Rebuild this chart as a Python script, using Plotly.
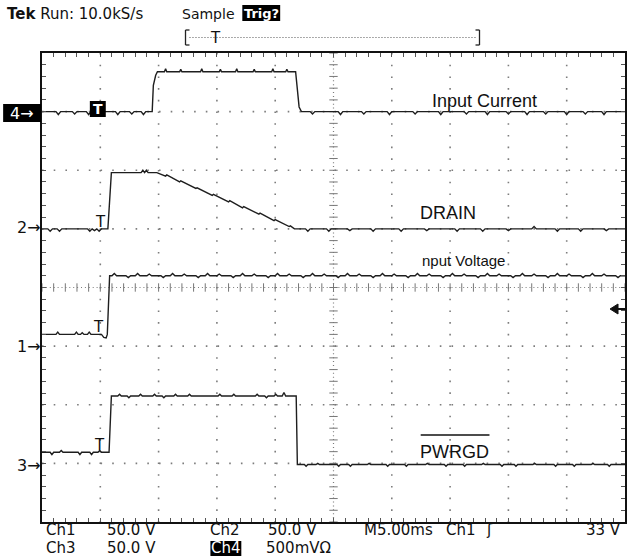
import plotly.graph_objects as go

# ---------------- data ----------------
# time in ms (M5.00ms -> 5 ms/div, 10 divisions); amplitude in screen divisions (0..8)
time_range = [0, 50]
div_range = [0, 8]

# Ch4 - Input Current
ch4_t = [0.0, 1.2, 1.4, 1.6, 2.6, 2.8, 3.0, 3.8, 4.0, 4.2, 5.0, 5.2, 5.4, 6.3, 6.5, 6.7, 7.5, 7.7, 7.9, 8.5, 8.7, 8.9,
         9.45, 9.55, 9.75, 9.9,
         10.5, 10.6, 10.7, 11.8, 11.9, 12.0, 13.6, 13.7, 13.8, 15.2, 15.3, 15.4, 16.6, 16.7, 16.8, 18.1, 18.2, 18.3,
         19.7, 19.8, 19.9, 20.9, 21.0, 21.1,
         21.75, 21.9, 22.05, 22.25,
         23.0, 23.2, 23.4, 25.4, 25.6, 25.8, 27.4, 27.6, 27.8, 29.6, 29.8, 30.0, 31.8, 32.0, 32.2, 34.0, 34.2, 34.4,
         36.2, 36.4, 36.6, 38.0, 38.2, 38.4, 39.8, 40.0, 40.2, 41.4, 41.6, 41.8, 43.0, 43.2, 43.4, 44.8, 45.0, 45.2,
         46.4, 46.6, 46.8, 48.0, 48.2, 48.4,
         50.0]
ch4_v = [7.0, 7.0, 6.95, 7.0, 7.0, 6.96, 7.0, 7.0, 6.95, 7.0, 7.0, 6.96, 7.0, 7.0, 6.95, 7.0, 7.0, 6.96, 7.0, 7.0, 6.95, 7.0,
         7.0, 7.45, 7.62, 7.68,
         7.68, 7.73, 7.68, 7.68, 7.72, 7.68, 7.68, 7.73, 7.68, 7.68, 7.72, 7.68, 7.68, 7.73, 7.68, 7.68, 7.72, 7.68,
         7.68, 7.73, 7.68, 7.68, 7.72, 7.68,
         7.68, 7.4, 7.08, 7.0,
         7.0, 6.96, 7.0, 7.0, 6.95, 7.0, 7.0, 6.96, 7.0, 7.0, 6.95, 7.0, 7.0, 6.96, 7.0, 7.0, 6.95, 7.0,
         7.0, 6.96, 7.0, 7.0, 6.95, 7.0, 7.0, 6.96, 7.0, 7.0, 6.95, 7.0, 7.0, 6.96, 7.0, 7.0, 6.95, 7.0,
         7.0, 6.96, 7.0, 7.0, 6.95, 7.0,
         7.0]

# Ch2 - DRAIN
ch2_t = [0.0, 0.5, 0.7, 0.9, 1.3, 1.5, 1.7, 3.9, 4.1, 4.3, 4.5, 4.7, 4.9, 5.1,
         5.65, 5.8, 5.95,
         8.5, 8.65, 8.8, 8.95, 9.1, 9.85,
         10.6, 10.7, 11.8, 11.9, 13.2, 13.3, 14.6, 14.7, 16.0, 16.1, 17.2, 17.3, 18.6, 18.7, 19.9, 20.0, 21.2, 21.3, 21.65,
         22.6, 22.8, 23.0, 24.4, 24.6, 24.8, 26.2, 26.4, 26.6, 28.2, 28.4, 28.6, 30.6, 30.8, 31.0, 32.8, 33.0, 33.2,
         35.4, 35.6, 35.8, 37.6, 37.8, 38.0, 39.8, 40.0, 40.2, 42.0, 42.2, 42.4, 44.0, 44.2, 44.4, 46.0, 46.2, 46.4,
         48.2, 48.4, 48.6,
         50.0]
ch2_v = [5.0, 5.0, 4.96, 5.0, 5.0, 4.96, 5.0, 5.0, 4.96, 5.0, 4.97, 5.0, 4.96, 5.0,
         5.0, 5.6, 5.96,
         5.96, 6.0, 5.96, 6.0, 5.96, 5.96,
         5.90, 5.92, 5.80, 5.82, 5.69, 5.70, 5.57, 5.59, 5.46, 5.48, 5.36, 5.38, 5.25, 5.27, 5.14, 5.16, 5.04, 5.05, 5.0,
         5.0, 4.96, 5.0, 5.0, 4.96, 5.0, 5.0, 4.97, 5.0, 5.0, 4.96, 5.0, 5.0, 4.96, 5.0, 5.0, 4.97, 5.0,
         5.0, 4.96, 5.0, 5.0, 4.96, 5.0, 5.0, 4.97, 5.0, 5.0, 5.04, 5.0, 5.0, 4.96, 5.0, 5.0, 4.96, 5.0,
         5.0, 4.97, 5.0,
         5.0]

# Ch1 - Input Voltage
ch1_t = [0.0, 1.2, 1.35, 1.5, 2.8, 2.95, 3.1, 3.3, 3.45, 3.6, 3.9, 4.05, 4.2,
         5.1, 5.3, 5.5, 5.6, 5.7, 5.8,
         6.0, 6.2, 6.4, 7.2, 7.4, 7.6, 8.0, 8.2, 8.4, 9.0, 9.2, 9.4, 10.2, 10.4, 10.6, 11.0, 11.2, 11.4,
         12.0, 12.2, 12.4, 13.2, 13.4, 13.6, 14.0, 14.2, 14.4, 15.0, 15.2, 15.4, 16.2, 16.4, 16.6, 17.0, 17.2, 17.4,
         18.0, 18.2, 18.4, 19.2, 19.4, 19.6, 20.0, 20.2, 20.4, 21.0, 21.2, 21.4, 22.2, 22.4, 22.6, 23.0, 23.2, 23.4,
         24.0, 24.2, 24.4, 25.2, 25.4, 25.6, 26.0, 26.2, 26.4, 27.0, 27.2, 27.4, 28.2, 28.4, 28.6, 29.0, 29.2, 29.4,
         30.0, 30.2, 30.4, 31.2, 31.4, 31.6, 32.0, 32.2, 32.4, 33.0, 33.2, 33.4, 34.2, 34.4, 34.6, 35.0, 35.2, 35.4,
         36.0, 36.2, 36.4, 37.2, 37.4, 37.6, 38.0, 38.2, 38.4, 39.0, 39.2, 39.4, 40.2, 40.4, 40.6, 41.0, 41.2, 41.4,
         42.0, 42.2, 42.4, 43.2, 43.4, 43.6, 44.0, 44.2, 44.4, 45.0, 45.2, 45.4, 46.2, 46.4, 46.6, 47.0, 47.2, 47.4,
         48.0, 48.2, 48.4, 49.2, 49.4, 49.6,
         50.0]
ch1_v = [3.2, 3.2, 3.24, 3.2, 3.2, 3.24, 3.2, 3.2, 3.23, 3.2, 3.2, 3.24, 3.2,
         3.2, 3.15, 3.14, 3.2, 3.9, 4.2,
         4.2, 4.24, 4.2, 4.2, 4.17, 4.2, 4.2, 4.24, 4.2, 4.2, 4.23, 4.2, 4.2, 4.17, 4.2, 4.2, 4.24, 4.2,
         4.2, 4.23, 4.2, 4.2, 4.17, 4.2, 4.2, 4.24, 4.2, 4.2, 4.23, 4.2, 4.2, 4.17, 4.2, 4.2, 4.24, 4.2,
         4.2, 4.23, 4.2, 4.2, 4.17, 4.2, 4.2, 4.24, 4.2, 4.2, 4.23, 4.2, 4.2, 4.17, 4.2, 4.2, 4.24, 4.2,
         4.2, 4.23, 4.2, 4.2, 4.17, 4.2, 4.2, 4.24, 4.2, 4.2, 4.23, 4.2, 4.2, 4.17, 4.2, 4.2, 4.24, 4.2,
         4.2, 4.23, 4.2, 4.2, 4.17, 4.2, 4.2, 4.24, 4.2, 4.2, 4.23, 4.2, 4.2, 4.17, 4.2, 4.2, 4.24, 4.2,
         4.2, 4.23, 4.2, 4.2, 4.17, 4.2, 4.2, 4.24, 4.2, 4.2, 4.23, 4.2, 4.2, 4.17, 4.2, 4.2, 4.24, 4.2,
         4.2, 4.23, 4.2, 4.2, 4.17, 4.2, 4.2, 4.24, 4.2, 4.2, 4.23, 4.2, 4.2, 4.17, 4.2, 4.2, 4.24, 4.2,
         4.2, 4.23, 4.2, 4.2, 4.17, 4.2,
         4.2]

# Ch3 - PWRGD
ch3_t = [0.0, 0.7, 0.85, 1.0, 1.5, 1.65, 1.8, 3.1, 3.25, 3.4, 4.1, 4.25, 4.4, 4.8, 4.95, 5.1,
         5.75, 5.85, 5.95,
         6.5, 6.65, 6.8, 7.3, 7.45, 7.6, 8.3, 8.45, 8.6, 9.5, 9.65, 9.8, 10.3, 10.45, 10.6, 11.3, 11.45, 11.6,
         12.5, 12.65, 12.8, 15.1, 15.25, 15.4, 16.3, 16.45, 16.6, 18.3, 18.45, 18.6, 19.1, 19.25, 19.4,
         19.9, 20.05, 20.2, 20.6, 20.75, 20.9,
         21.8, 21.9,
         22.5, 22.65, 22.8, 23.5, 23.65, 23.8, 25.3, 25.45, 25.6, 26.3, 26.45, 26.6, 27.9, 28.05, 28.2,
         29.5, 29.65, 29.8, 31.1, 31.25, 31.4, 32.9, 33.05, 33.2, 34.5, 34.65, 34.8, 36.1, 36.25, 36.4,
         37.7, 37.85, 38.0, 39.3, 39.45, 39.6, 40.5, 40.65, 40.8, 42.1, 42.25, 42.4, 43.9, 44.05, 44.2,
         45.5, 45.65, 45.8, 47.1, 47.25, 47.4, 48.5, 48.65, 48.8,
         50.0]
ch3_v = [1.19, 1.19, 1.15, 1.19, 1.19, 1.22, 1.19, 1.19, 1.15, 1.19, 1.19, 1.15, 1.19, 1.19, 1.22, 1.19,
         1.19, 1.8, 2.15,
         2.15, 2.18, 2.15, 2.15, 2.12, 2.15, 2.15, 2.18, 2.15, 2.15, 2.18, 2.15, 2.15, 2.12, 2.15, 2.15, 2.18, 2.15,
         2.15, 2.18, 2.15, 2.15, 2.18, 2.15, 2.15, 2.18, 2.15, 2.15, 2.18, 2.15, 2.15, 2.12, 2.15,
         2.15, 2.18, 2.15, 2.15, 2.21, 2.15,
         2.15, 0.98,
         0.98, 0.95, 0.98, 0.98, 1.0, 0.98, 0.98, 0.95, 0.98, 0.98, 0.95, 0.98, 0.98, 1.0, 0.98,
         0.98, 0.95, 0.98, 0.98, 0.95, 0.98, 0.98, 1.0, 0.98, 0.98, 0.95, 0.98, 0.98, 0.95, 0.98,
         0.98, 1.0, 0.98, 0.98, 0.95, 0.98, 0.98, 0.95, 0.98, 0.98, 1.0, 0.98, 0.98, 0.95, 0.98,
         0.98, 0.95, 0.98, 0.98, 1.0, 0.98, 0.98, 0.95, 0.98,
         0.98]

trace_labels = ["Input Current", "DRAIN", "nput Voltage", "PWRGD"]
channel_markers = ["4\u2192", "2\u2192", "1\u2192", "3\u2192"]
header_texts = ["<b>Tek</b> Run: 10.0kS/s", "Sample", "Trig?"]
footer_row1 = ["Ch1", "50.0 V", "Ch2", "50.0 V", "M5.00ms", "Ch1", "\u0283", "33 V"]
footer_row2 = ["Ch3", "50.0 V", "Ch4", "500mV\u03a9"]

for a, b in [(ch4_t, ch4_v), (ch2_t, ch2_v), (ch1_t, ch1_v), (ch3_t, ch3_v)]:
    assert len(a) == len(b), (len(a), len(b))

# ---------------- layout geometry (pixels) ----------------
L, T, R, B = 42, 53, 627, 522
W, H = R - L, B - T


def px(x):
    return (x - L) / W


def py(y):
    return 1 - (y - T) / H


fig = go.Figure()

# graticule tick marks on the centre cross
cross_t = [i * 1.0 for i in range(0, 51)]
cross_v = [i * 0.2 for i in range(0, 41)]
fig.add_trace(go.Scatter(x=cross_t, y=[4] * len(cross_t), mode="markers", hoverinfo="skip",
                         marker=dict(symbol="line-ns", size=6, line=dict(color="#777", width=1))))
fig.add_trace(go.Scatter(x=[25] * len(cross_v), y=cross_v, mode="markers", hoverinfo="skip",
                         marker=dict(symbol="line-ew", size=6, line=dict(color="#777", width=1))))

for t, v in [(ch4_t, ch4_v), (ch2_t, ch2_v), (ch1_t, ch1_v), (ch3_t, ch3_v)]:
    fig.add_trace(go.Scatter(x=t, y=v, mode="lines", hoverinfo="skip",
                             line=dict(color="#1e1e1e", width=1.4)))

shapes = []
gcol = "#7d7d7d"
for k in range(1, 10):
    if k == 5:
        continue
    shapes.append(dict(type="line", xref="x", yref="y", x0=k * 5, x1=k * 5, y0=8, y1=0, layer="below",
                       line=dict(color=gcol, width=1.6, dash="1.6px,10.1px")))
for k in range(1, 8):
    if k == 4:
        continue
    shapes.append(dict(type="line", xref="x", yref="y", x0=0, x1=50, y0=k, y1=k, layer="below",
                       line=dict(color=gcol, width=1.6, dash="1.6px,10.1px")))
shapes.append(dict(type="line", xref="x", yref="y", x0=25, x1=25, y0=8, y1=0, layer="below",
                   line=dict(color=gcol, width=1.2, dash="1px,2.9px")))
shapes.append(dict(type="line", xref="x", yref="y", x0=0, x1=50, y0=4, y1=4, layer="below",
                   line=dict(color=gcol, width=1.2, dash="1px,2.9px")))


def pline(x0, y0, x1, y1, color="#222", width=1.3, dash="solid"):
    return dict(type="line", xref="paper", yref="paper", x0=px(x0), y0=py(y0), x1=px(x1), y1=py(y1),
                line=dict(color=color, width=width, dash=dash))


def prect(x0, y0, x1, y1, color="black"):
    return dict(type="rect", xref="paper", yref="paper", x0=px(x0), y0=py(y0), x1=px(x1), y1=py(y1),
                fillcolor=color, line=dict(width=0))


# header record bracket
shapes += [pline(186, 30, 186, 45), pline(186, 30, 190, 30), pline(186, 45, 190, 45),
           pline(481, 30, 481, 45), pline(477, 30, 481, 30), pline(477, 45, 481, 45),
           pline(190, 37.5, 477, 37.5, color="#555", width=1, dash="1px,2px")]
# inverted boxes
shapes += [prect(243, 5, 281, 21), prect(3, 104, 41, 122), prect(90, 101, 106, 117), prect(211, 541, 242, 556)]
# PWRGD overline
shapes.append(pline(422, 435, 491, 435, color="#111", width=1.3))
# trigger level arrow at right edge
shapes.append(dict(type="path", xref="paper", yref="paper",
                   path=f"M {px(612)},{py(309)} L {px(620)},{py(304)} L {px(620)},{py(314)} Z",
                   fillcolor="#111", line=dict(color="#111", width=1)))
shapes.append(pline(619, 309, 627, 309, color="#111", width=2))

ann = []


def txt(x, y, s, size=16, anchor="left", color="#111", family="DejaVu Sans"):
    ann.append(dict(xref="paper", yref="paper", x=px(x), y=py(y), text=s, showarrow=False,
                    xanchor=anchor, yanchor="middle", borderpad=0,
                    font=dict(family=family, size=size, color=color)))


# header
txt(6, 14, header_texts[0], 15)
txt(181, 14, header_texts[1], 14)
txt(262, 13, "<b>" + header_texts[2] + "</b>", 13, "center", "white")
txt(216, 38, "T", 15, "center")

# channel ground markers
txt(22, 113, channel_markers[0], 16, "center", "white")
txt(42, 228, channel_markers[1], 16, "right")
txt(42, 346, channel_markers[2], 16, "right")
txt(42, 465, channel_markers[3], 16, "right")

# trigger "T" markers
txt(98, 109, "<b>T</b>", 14, "center", "white")
txt(101, 222, "T", 15, "center")
txt(99, 327, "T", 15, "center")
txt(100, 445, "T", 15, "center")

# trace labels
lab_font = "Liberation Sans"
txt(486, 101, trace_labels[0], 18, "center", "#111", lab_font)
txt(449, 213, trace_labels[1], 18, "center", "#111", lab_font)
txt(465, 260, trace_labels[2], 15, "center", "#111", lab_font)
txt(456, 452, trace_labels[3], 18, "center", "#111", lab_font)

# footer
r1, r2 = 530, 548
fs = 15
txt(45, r1, footer_row1[0], fs); txt(106, r1, footer_row1[1], fs); txt(210, r1, footer_row1[2], fs)
txt(268, r1, footer_row1[3], fs); txt(364, r1, footer_row1[4], fs); txt(446, r1, footer_row1[5], fs)
txt(487, r1, footer_row1[6], fs); txt(624, r1, footer_row1[7], fs, anchor="right")
txt(45, r2, footer_row2[0], fs); txt(106, r2, footer_row2[1], fs)
txt(226.5, r2, footer_row2[2], fs, color="white", anchor="center"); txt(266, r2, footer_row2[3], fs)

axis_common = dict(showgrid=False, zeroline=False, showline=True, linecolor="#111", linewidth=1.5,
                   mirror="ticks", ticks="inside", ticklen=4, tickcolor="#555", tickwidth=1,
                   showticklabels=False, fixedrange=True)
fig.update_layout(
    width=631, height=557,
    margin=dict(l=L, r=631 - R, t=T, b=557 - B, pad=0),
    paper_bgcolor="white", plot_bgcolor="white", showlegend=False,
    xaxis=dict(range=time_range, tick0=0, dtick=1, **axis_common),
    yaxis=dict(range=div_range, tick0=0, dtick=0.2, **axis_common),
    shapes=shapes, annotations=ann,
)

fig.write_html("out.html", config={"displayModeBar": False},
               post_script="document.body.style.margin='0px';document.body.style.overflow='hidden';")
